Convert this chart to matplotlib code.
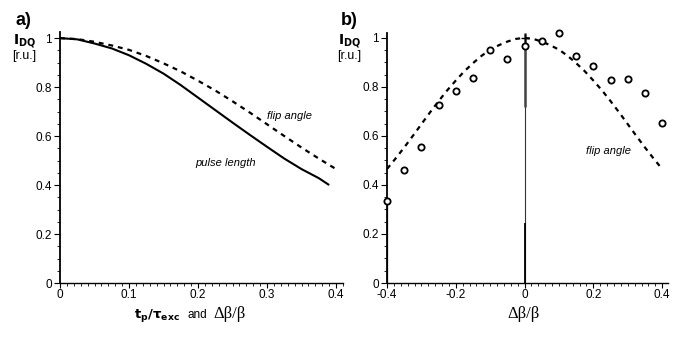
import matplotlib
matplotlib.use('Agg')
import matplotlib.pyplot as plt
from matplotlib.ticker import MultipleLocator, FixedLocator, FixedFormatter

plt.rcParams['font.family'] = ['Liberation Sans', 'DejaVu Sans']
plt.rcParams['axes.unicode_minus'] = False

# ── Data ──────────────────────────────────────────────────────────────────────
# panel a: pulse length (solid) and flip angle (dashed)
pulse_x = [0.0, 0.025, 0.05, 0.075, 0.1, 0.125, 0.15, 0.175, 0.2, 0.225,
           0.25, 0.275, 0.3, 0.325, 0.35, 0.375, 0.39]
pulse_y = [1.0, 0.995, 0.978, 0.958, 0.930, 0.895, 0.855, 0.808, 0.757, 0.706,
           0.655, 0.605, 0.556, 0.508, 0.465, 0.428, 0.400]

flip_x = [0.0, 0.025, 0.05, 0.075, 0.1, 0.125, 0.15, 0.175, 0.2, 0.225,
          0.25, 0.275, 0.3, 0.325, 0.35, 0.375, 0.4]
flip_y = [1.0, 0.996, 0.985, 0.970, 0.952, 0.927, 0.897, 0.864, 0.826, 0.786,
          0.742, 0.696, 0.648, 0.600, 0.553, 0.508, 0.465]

# panel b: flip angle curve (dashed) and measured points (open circles)
flipb_x = [-0.4, -0.375, -0.35, -0.325, -0.3, -0.275, -0.25, -0.225, -0.2, -0.175,
           -0.15, -0.125, -0.1, -0.075, -0.05, -0.025, 0.0, 0.025, 0.05, 0.075,
           0.1, 0.125, 0.15, 0.175, 0.2, 0.225, 0.25, 0.275, 0.3, 0.325,
           0.35, 0.375, 0.4]
flipb_y = [0.465, 0.508, 0.553, 0.600, 0.648, 0.696, 0.742, 0.786, 0.826, 0.864,
           0.897, 0.927, 0.952, 0.970, 0.985, 0.996, 1.0, 0.996, 0.985, 0.970,
           0.952, 0.927, 0.897, 0.864, 0.826, 0.786, 0.742, 0.696, 0.648, 0.600,
           0.553, 0.508, 0.465]

meas_x = [-0.4, -0.35, -0.3, -0.25, -0.2, -0.15, -0.1, -0.05, 0.0,
          0.05, 0.1, 0.15, 0.2, 0.25, 0.3, 0.35, 0.4]
meas_y = [0.336, 0.460, 0.556, 0.725, 0.784, 0.837, 0.952, 0.914, 0.967,
          0.989, 1.018, 0.928, 0.887, 0.827, 0.831, 0.774, 0.652]

ytick_vals = [0, 0.2, 0.4, 0.6, 0.8, 1.0]
ytick_labels = ['0', '0.2', '0.4', '0.6', '0.8', '1']
xa_vals = [0, 0.1, 0.2, 0.3, 0.4]
xa_labels = ['0', '0.1', '0.2', '0.3', '0.4']
xb_vals = [-0.4, -0.2, 0, 0.2, 0.4]
xb_labels = ['-0.4', '-0.2', '0', '0.2', '0.4']

W, H = 688, 340
fig = plt.figure(figsize=(W / 100, H / 100), dpi=100)


def box(x0, x1, ytop, ybot):
    return [x0 / W, 1 - ybot / H, (x1 - x0) / W, (ybot - ytop) / H]


ax_a = fig.add_axes(box(60, 343, 32, 283))
ax_b = fig.add_axes(box(387, 668, 33, 283))


def style(ax):
    for s in ('top', 'right'):
        ax.spines[s].set_visible(False)
    ax.spines['left'].set_linewidth(1.3)
    ax.spines['bottom'].set_linewidth(1.0)
    ax.yaxis.set_major_locator(FixedLocator(ytick_vals))
    ax.yaxis.set_major_formatter(FixedFormatter(ytick_labels))
    ax.yaxis.set_minor_locator(MultipleLocator(0.05))
    ax.tick_params(which='major', direction='out', length=4, width=0.8,
                   labelsize=8.5, pad=2)
    ax.tick_params(axis='x', which='major', length=3.5, pad=0.5)
    ax.tick_params(which='minor', direction='out', length=2, width=0.6)
    ax.set_facecolor('none')


# ── Panel a ───────────────────────────────────────────────────────────────────
ax_a.plot(pulse_x, pulse_y, color='black', lw=1.5, solid_capstyle='butt')
ax_a.plot(flip_x, flip_y, color='black', lw=1.6, linestyle=(0, (2.2, 2.2)))
ax_a.set_xlim(0, 0.41)
ax_a.set_ylim(0, 1.025)
style(ax_a)
ax_a.xaxis.set_major_locator(FixedLocator(xa_vals))
ax_a.xaxis.set_major_formatter(FixedFormatter(xa_labels))
ax_a.xaxis.set_minor_locator(MultipleLocator(0.01))
ax_a.text(0.30, 0.68, 'flip angle', fontsize=8, style='italic', va='center')
ax_a.text(0.196, 0.49, 'pulse length', fontsize=8, style='italic', va='center')

# ── Panel b ───────────────────────────────────────────────────────────────────
ax_b.vlines(0, 0, 1.02, color='#333333', lw=0.8)
ax_b.vlines(0, 0.72, 1.02, color='#444444', lw=1.8)
ax_b.vlines(0, 0, 0.245, color='black', lw=1.3)
ax_b.vlines(-0.4, 0, meas_y[0], color='black', lw=1.6)
ax_b.plot(flipb_x, flipb_y, color='black', lw=1.6, linestyle=(0, (2.2, 2.2)))
ax_b.plot([0], [1.0], marker='+', color='black', ms=6, mew=1.0)
ax_b.plot(meas_x, meas_y, 'o', mfc='white', mec='black', ms=4.5, mew=1.3,
          clip_on=False, zorder=5)
ax_b.set_xlim(-0.4, 0.417)
ax_b.set_ylim(0, 1.02)
style(ax_b)
ax_b.xaxis.set_major_locator(FixedLocator(xb_vals))
ax_b.xaxis.set_major_formatter(FixedFormatter(xb_labels))
ax_b.xaxis.set_minor_locator(MultipleLocator(0.02))
ax_b.text(0.18, 0.54, 'flip angle', fontsize=8, style='italic', va='center')

# ── Labels ────────────────────────────────────────────────────────────────────
for xl, lbl in ((16, 'a)'), (341, 'b)')):
    fig.text(xl / W, 1 - 25 / H, lbl, fontsize=13, fontweight='bold')
    fig.text((xl - 3) / W, 1 - 44 / H, r'$\mathbf{I}_{\mathbf{DQ}}$', fontsize=10,
             va='baseline')
    fig.text((xl - 4) / W, 1 - 59 / H, '[r.u.]', fontsize=9, va='baseline')

fig.text(180 / W, 1 - 318 / H, r'$\mathbf{t_p/\tau_{exc}}$', fontsize=9.5,
         ha='right', va='baseline')
fig.text(187 / W, 1 - 318 / H, 'and', fontsize=8.5, va='baseline')
fig.text(213 / W, 1 - 318 / H, 'Δβ/β', fontsize=12, family='Liberation Serif',
         va='baseline')
fig.text(524 / W, 1 - 318 / H, 'Δβ/β', fontsize=12, family='Liberation Serif',
         ha='center', va='baseline')

fig.savefig('out.png', dpi=100)
